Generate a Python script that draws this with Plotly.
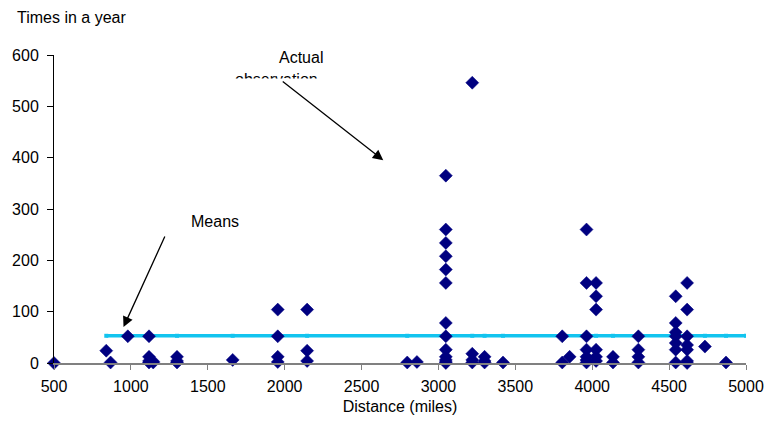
import plotly.graph_objects as go

# Observations: distance (miles) and times in a year
distance = [500, 840, 868, 980,
            1118, 1118, 1118, 1118, 1145, 1145,
            1300, 1300, 1300, 1662,
            1955, 1955, 1955, 1955, 2146, 2146, 2146,
            2797, 2860,
            3048, 3048, 3048, 3048, 3048, 3048, 3048, 3048, 3048, 3048, 3048, 3048, 3048,
            3220, 3220, 3220, 3220, 3300, 3300, 3300, 3420,
            3805, 3805, 3853,
            3963, 3963, 3963, 3963, 3963, 3963, 3963,
            4025, 4025, 4025, 4025, 4025, 4025,
            4135, 4135, 4300, 4300, 4300, 4300,
            4543, 4543, 4543, 4543, 4543, 4543, 4543,
            4617, 4617, 4617, 4617, 4617, 4617, 4617,
            4733, 4870]
times = [0, 24, 1, 52,
         52, 12, 4, 1, 3, 1,
         12, 4, 1, 6,
         104, 52, 12, 2, 104, 24, 4,
         1, 2,
         365, 260, 234, 208, 182, 156, 78, 52, 26, 12, 6, 2, 0,
         546, 18, 6, 1, 12, 4, 1, 1,
         52, 1, 12,
         260, 156, 52, 26, 12, 6, 1,
         156, 130, 104, 26, 12, 4,
         12, 1, 52, 26, 12, 1,
         130, 78, 60, 52, 39, 26, 1,
         156, 104, 52, 35, 26, 4, 0,
         32, 1]

# Means line
mean_x = [840, 980, 1118, 1300, 1662, 1955, 2146, 2797, 3048, 3220, 3300, 3420,
          3805, 3963, 4025, 4135, 4300, 4543, 4617, 4733, 4870, 5000]
mean_y = [53, 53, 53, 53, 53, 53, 53, 53, 53, 53, 53, 53,
          53, 53, 53, 53, 53, 53, 53, 53, 53, 53]

x_ticks = [500, 1000, 1500, 2000, 2500, 3000, 3500, 4000, 4500, 5000]
y_ticks = [0, 100, 200, 300, 400, 500, 600]

FONT = "Liberation Sans, Arial, sans-serif"
NAVY = "#000080"
CYAN = "#12C4EF"
FS = 16

fig = go.Figure()
fig.add_trace(go.Scatter(
    x=mean_x, y=mean_y, mode="lines+markers",
    line=dict(color=CYAN, width=3.5),
    marker=dict(symbol="square", size=4, color=CYAN),
    showlegend=False, hoverinfo="skip"))
fig.add_trace(go.Scatter(
    x=distance, y=times, mode="markers",
    marker=dict(symbol="diamond", size=10, color=NAVY,
                line=dict(color=NAVY, width=0.5)),
    cliponaxis=False, showlegend=False))

fig.update_layout(
    width=776, height=436,
    margin=dict(l=49, r=21, t=55, b=73),
    plot_bgcolor="white", paper_bgcolor="white",
    font=dict(family=FONT, size=FS, color="black"),
    xaxis=dict(range=[500, 5000], tickvals=x_ticks, showgrid=False, zeroline=False,
               showline=True, linecolor="#808080", linewidth=1.5,
               ticks="outside", ticklen=5, tickcolor="#808080", tickwidth=1,
               ticklabelstandoff=3,
               title=dict(text="Distance (miles)", standoff=7,
                          font=dict(family=FONT, size=FS))),
    yaxis=dict(range=[0, 600], tickvals=y_ticks, showgrid=False, zeroline=False,
               showline=True, linecolor="black", linewidth=1,
               ticks="outside", ticklen=6, tickcolor="black", tickwidth=1,
               ticklabelstandoff=5),
)

annotations = [
    dict(text="Times in a year", xref="paper", yref="paper",
         x=-0.057, y=1.0, yshift=38, xanchor="left", yanchor="middle",
         showarrow=False, font=dict(size=FS)),
    dict(text="Actual", x=2106, y=600, xref="x", yref="y", yshift=-2,
         xanchor="center", yanchor="middle", showarrow=False, font=dict(size=FS)),
    dict(text="observation", x=1950, y=600, xref="x", yref="y", yshift=-24,
         xanchor="center", yanchor="middle", showarrow=False, font=dict(size=FS)),
    dict(text=" ", x=1950, y=600, xref="x", yref="y", yshift=-32,
         xanchor="center", yanchor="middle", showarrow=False,
         width=115, height=14, bgcolor="white"),
    dict(text="", x=2641, y=395, xref="x", yref="y", showarrow=True,
         ax=-102, ay=-80, arrowhead=2, arrowsize=1.6, arrowwidth=1.3,
         arrowcolor="black"),
    dict(text="Means", x=1545, y=275, xref="x", yref="y",
         xanchor="center", yanchor="middle", showarrow=False, font=dict(size=FS)),
    dict(text="", x=952, y=70, xref="x", yref="y", showarrow=True,
         ax=42, ay=-92, arrowhead=2, arrowsize=1.6, arrowwidth=1.3,
         arrowcolor="black"),
]
fig.update_layout(annotations=annotations)

fig.write_html("out.html")
